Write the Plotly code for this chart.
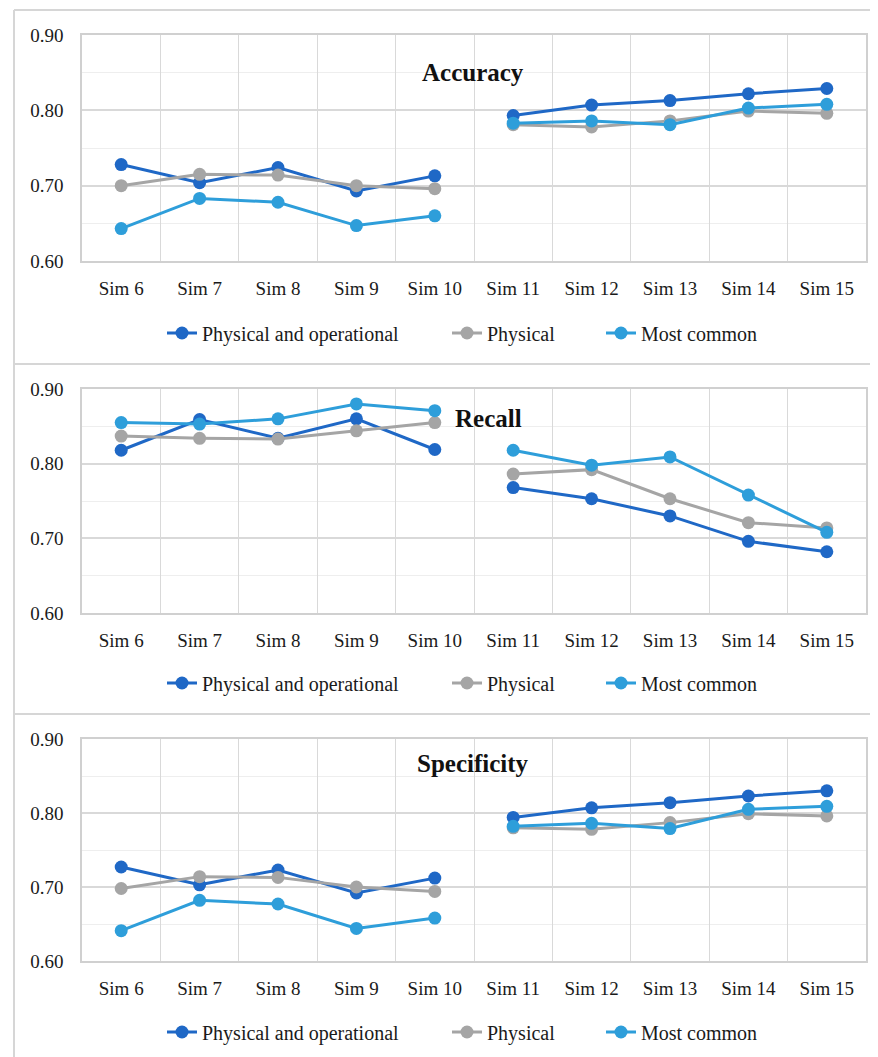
import plotly.graph_objects as go

W, H = 878, 1057
# the page places the figure 8px in from the top-left corner
OX, OY = 8, 8

categories = ["Sim 6", "Sim 7", "Sim 8", "Sim 9", "Sim 10",
              "Sim 11", "Sim 12", "Sim 13", "Sim 14", "Sim 15"]
series_names = ["Physical and operational", "Physical", "Most common"]
y_ticks = [0.60, 0.70, 0.80, 0.90]

accuracy_po = [0.728, 0.704, 0.724, 0.693, 0.713, 0.793, 0.807, 0.813, 0.822, 0.829]
accuracy_ph = [0.700, 0.715, 0.714, 0.700, 0.696, 0.781, 0.778, 0.786, 0.799, 0.796]
accuracy_mc = [0.643, 0.683, 0.678, 0.647, 0.660, 0.783, 0.786, 0.781, 0.803, 0.808]

recall_po = [0.818, 0.859, 0.834, 0.860, 0.819, 0.768, 0.753, 0.730, 0.696, 0.682]
recall_ph = [0.837, 0.834, 0.833, 0.844, 0.855, 0.786, 0.792, 0.753, 0.721, 0.714]
recall_mc = [0.855, 0.853, 0.860, 0.880, 0.871, 0.818, 0.798, 0.809, 0.758, 0.708]

specificity_po = [0.727, 0.703, 0.723, 0.692, 0.712, 0.794, 0.807, 0.814, 0.823, 0.830]
specificity_ph = [0.698, 0.714, 0.713, 0.700, 0.694, 0.780, 0.778, 0.787, 0.799, 0.796]
specificity_mc = [0.641, 0.682, 0.677, 0.644, 0.658, 0.782, 0.786, 0.779, 0.805, 0.809]

titles = ["Accuracy", "Recall", "Specificity"]
panels = [
    [accuracy_po, accuracy_ph, accuracy_mc],
    [recall_po, recall_ph, recall_mc],
    [specificity_po, specificity_ph, specificity_mc],
]
colors = ["#1F68C6", "#A5A5A5", "#2E9EDA"]

FONT = "Liberation Serif"

def py(px):
    return 1 - (px - OY) / H

def px_x(px):
    return (px - OX) / W

# per panel (page pixels): (plot top, plot bottom, title x, title y, legend y)
panel_geo = [
    (35, 261, 473, 72, 333),
    (389, 613, 488, 418, 683),
    (739, 961, 473, 763, 1032),
]
# page x where each legend entry's text begins
legend_text_x = [205, 490, 644]

fig = go.Figure()
for p, vals in enumerate(panels):
    xa = "x" if p == 0 else f"x{p+1}"
    ya = "y" if p == 0 else f"y{p+1}"
    for s, (name, col, v) in enumerate(zip(series_names, colors, vals)):
        k = p * 3 + s
        lg = "legend" if k == 0 else f"legend{k+1}"
        for seg, (a, b) in enumerate([(0, 5), (5, 10)]):
            fig.add_trace(go.Scatter(
                x=categories[a:b], y=v[a:b], name=name,
                mode="lines+markers",
                line=dict(color=col, width=3),
                marker=dict(color=col, size=13),
                xaxis=xa, yaxis=ya, legend=lg,
                legendgroup=f"{p}-{s}", showlegend=(seg == 0),
            ))

layout = dict(
    width=W, height=H,
    margin=dict(l=0, r=0, t=0, b=0, autoexpand=False),
    paper_bgcolor="white", plot_bgcolor="white",
    font=dict(family=FONT, size=18, color="#1a1a1a"),
    showlegend=True,
)

shapes = []
annotations = []
for p, (top, bot, tx, tyy, ly) in enumerate(panel_geo):
    xk = "xaxis" if p == 0 else f"xaxis{p+1}"
    yk = "yaxis" if p == 0 else f"yaxis{p+1}"
    anchor_x = "y" if p == 0 else f"y{p+1}"
    anchor_y = "x" if p == 0 else f"x{p+1}"
    layout[xk] = dict(
        domain=[px_x(82), px_x(866)], anchor=anchor_x,
        type="category", categoryorder="array", categoryarray=categories,
        range=[-0.5, 9.5], tickson="boundaries",
        showgrid=True, gridcolor="#d9d9d9", gridwidth=1,
        showline=True, linecolor="#d0d0d0", linewidth=1.5, mirror=True,
        ticks="", ticklabelstandoff=9,
        tickfont=dict(family=FONT, size=19, color="#1a1a1a"),
        zeroline=False, fixedrange=True, automargin=False,
    )
    layout[yk] = dict(
        domain=[py(bot), py(top)], anchor=anchor_y,
        range=[0.6, 0.9], tickvals=y_ticks, tickformat=".2f",
        showgrid=True, gridcolor="#d9d9d9", gridwidth=1.5,
        minor=dict(dtick=0.05, showgrid=True, gridcolor="#eeeeee", gridwidth=1),
        showline=True, linecolor="#d0d0d0", linewidth=1.5, mirror=True,
        ticks="outside", ticklen=13, tickcolor="rgba(0,0,0,0)",
        tickfont=dict(family=FONT, size=19, color="#1a1a1a"),
        zeroline=False, fixedrange=True, automargin=False,
    )
    for s in range(3):
        k = p * 3 + s
        lk = "legend" if k == 0 else f"legend{k+1}"
        layout[lk] = dict(
            orientation="h", x=px_x(legend_text_x[s] - 43), xanchor="left",
            y=py(ly), yanchor="middle",
            font=dict(family=FONT, size=20, color="#1a1a1a"),
            bgcolor="rgba(0,0,0,0)",
        )
    annotations.append(dict(
        text=f"<b>{titles[p]}</b>", x=px_x(tx), y=py(tyy),
        xref="paper", yref="paper", xanchor="center", yanchor="middle",
        showarrow=False, font=dict(family=FONT, size=25, color="#111111"),
    ))

frame_col = "#d6d6d6"
shapes.append(dict(type="line", xref="paper", yref="paper",
                   x0=px_x(14), x1=px_x(14), y0=0, y1=py(10),
                   line=dict(color=frame_col, width=2)))
for yy in [10, 364, 714]:
    shapes.append(dict(type="line", xref="paper", yref="paper",
                       x0=px_x(14), x1=1, y0=py(yy), y1=py(yy),
                       line=dict(color=frame_col, width=2)))

layout["shapes"] = shapes
layout["annotations"] = annotations
fig.update_layout(**layout)

fig.write_html("out.html")
